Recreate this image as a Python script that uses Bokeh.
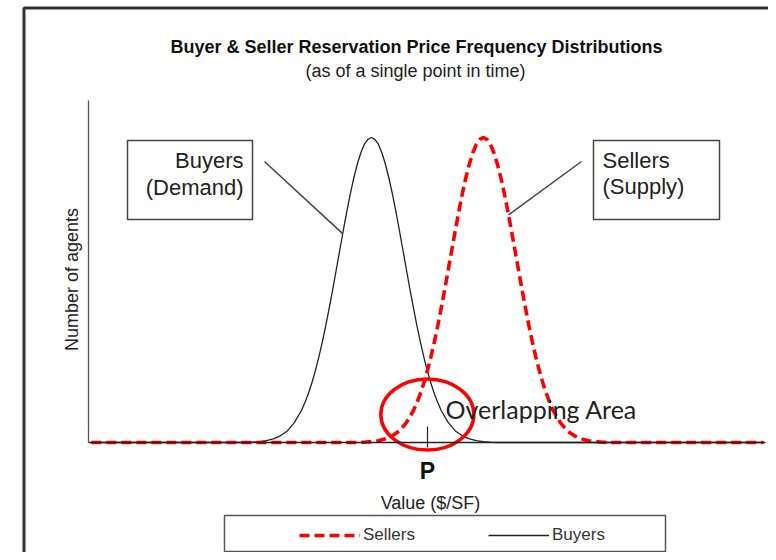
import numpy as np
from bokeh.plotting import figure
from bokeh.models import (Range1d, Label, Legend, LegendItem, BoxAnnotation, Arrow,
                          LinearAxis, FixedTicker)
from bokeh.embed import file_html
from bokeh.resources import INLINE

# ---------------- data ----------------
title_text = "Buyer & Seller Reservation Price Frequency Distributions"
subtitle_text = "(as of a single point in time)"
x_label = "Value ($/SF)"
y_label = "Number of agents"
buyers_label = "Buyers"
sellers_label = "Sellers"
buyers_box_lines = ["Buyers", "(Demand)"]
sellers_box_lines = ["Sellers", "(Supply)"]
overlap_label = "Overlapping Area"
price_label = "P"
price_p = 50

buyers_x = [2, 24, 25, 26, 27, 28, 29, 30, 31, 32, 32.5, 33, 33.5, 34, 34.5, 35, 35.5, 36,
            36.5, 37, 37.5, 38, 38.5, 39, 39.5, 40, 40.5, 41, 41.5, 42, 42.5, 43, 43.5, 44,
            44.5, 45, 45.5, 46, 46.5, 47, 47.5, 48, 48.5, 49, 49.5, 50, 50.5, 51, 51.5, 52,
            53, 54, 55, 56, 57, 58, 59, 60, 98]
buyers_y = [0, 0, 0.1, 0.3, 0.6, 1.2, 2.2, 3.8, 6.5, 10.4, 13.0, 16.0, 19.5, 23.5, 28.0, 33.0,
            38.4, 44.3, 50.4, 56.8, 63.2, 69.6, 75.8, 81.6, 86.8, 91.3, 95.0, 97.8, 99.4, 100,
            99.4, 97.8, 95.0, 91.3, 86.8, 81.6, 75.8, 69.6, 63.2, 56.8, 50.4, 44.3, 38.4, 33.0,
            28.0, 23.5, 19.5, 16.0, 13.0, 10.4, 6.5, 3.8, 2.2, 1.2, 0.6, 0.3, 0.1, 0, 0]

sellers_x = [2, 40, 41, 42, 43, 44, 45, 46, 47, 48, 48.5, 49, 49.5, 50, 50.5, 51, 51.5, 52,
             52.5, 53, 53.5, 54, 54.5, 55, 55.5, 56, 56.5, 57, 57.5, 58, 58.5, 59, 59.5, 60,
             60.5, 61, 61.5, 62, 62.5, 63, 63.5, 64, 64.5, 65, 65.5, 66, 66.5, 67, 67.5, 68,
             69, 70, 71, 72, 73, 74, 75, 76, 98]
sellers_y = [0, 0, 0.1, 0.3, 0.6, 1.2, 2.2, 3.8, 6.5, 10.4, 13.0, 16.0, 19.5, 23.5, 28.0, 33.0,
             38.4, 44.3, 50.4, 56.8, 63.2, 69.6, 75.8, 81.6, 86.8, 91.3, 95.0, 97.8, 99.4, 100,
             99.4, 97.8, 95.0, 91.3, 86.8, 81.6, 75.8, 69.6, 63.2, 56.8, 50.4, 44.3, 38.4, 33.0,
             28.0, 23.5, 19.5, 16.0, 13.0, 10.4, 6.5, 3.8, 2.2, 1.2, 0.6, 0.3, 0.1, 0, 0]

# ---------------- layout helpers (page pixels -> data) ----------------
W, H = 768, 552
AX_L, AX_R, AX_T, BASE, PEAK = 88, 765, 100, 442, 137
X_AT_AXL, X_AT_AXR = 1.6, 98.3


def dx(px):
    return X_AT_AXL + (px - AX_L) * (X_AT_AXR - X_AT_AXL) / (AX_R - AX_L)


def dy(py):
    return (BASE - py) * 100.0 / (BASE - PEAK)


FONT = "Liberation Sans"
RED = "#ff0000"
INK = "#222222"

p = figure(width=W, height=H, x_range=Range1d(dx(0), dx(W)), y_range=Range1d(dy(H), dy(0)),
           output_backend="svg", toolbar_location=None,
           x_axis_location=None, y_axis_location=None,
           min_border=0, min_border_left=0, min_border_right=0, min_border_top=0,
           min_border_bottom=0)
p.outline_line_color = None
p.grid.visible = False
p.background_fill_color = "white"
p.border_fill_color = "white"

# axes (drawn at fixed data locations)
yax = LinearAxis(fixed_location=dx(AX_L), bounds=(0, dy(AX_T)), ticker=FixedTicker(ticks=[]),
                 axis_line_color="#555555", axis_line_width=1.3,
                 major_tick_line_color=None, minor_tick_line_color=None,
                 major_label_text_font_size="0px")
p.add_layout(yax, "left")

xax = LinearAxis(fixed_location=0, bounds=(dx(AX_L), dx(AX_R)),
                 ticker=FixedTicker(ticks=[price_p]),
                 major_label_overrides={price_p: price_label},
                 major_label_text_font=FONT, major_label_text_font_size="23px",
                 major_label_text_font_style="bold", major_label_text_color="#111111",
                 major_label_standoff=10,
                 major_tick_in=16, major_tick_out=5, major_tick_line_color=INK,
                 major_tick_line_width=1.2, minor_tick_line_color=None,
                 axis_line_color=INK, axis_line_width=1.3)
p.add_layout(xax, "below")

# curves
r_buy = p.line(buyers_x, buyers_y, line_color=INK, line_width=1.3)
r_sell = p.line(sellers_x, sellers_y, line_color=RED, line_width=3.6, line_dash="10 5")

# overlap ellipse
p.ellipse(x=[price_p], y=[dy(414)], width=93, height=71, width_units="screen",
          height_units="screen", fill_color=None, line_color=RED, line_width=3.5)

# outer frame
p.add_layout(BoxAnnotation(left=dx(23.5), right=dx(900), top=dy(7.5), bottom=dy(800),
                           fill_alpha=0, line_alpha=1, line_color="#333333", line_width=3))

# label boxes
for lx, rx in ((127, 252), (593, 719)):
    p.add_layout(BoxAnnotation(left=dx(lx), right=dx(rx), top=dy(140), bottom=dy(219),
                               fill_alpha=0, line_alpha=1, line_color="#444444",
                               line_width=1.5))
p.add_layout(Arrow(end=None, x_start=dx(264), y_start=dy(161), x_end=37.9, y_end=68.5,
                   line_color="#444444", line_width=1.5))
p.add_layout(Arrow(end=None, x_start=dx(581), y_start=dy(161), x_end=61.6, y_end=74.6,
                   line_color="#444444", line_width=1.5))


def add_text(x, y, text, size, align="center", bold=False, font=FONT, color=INK, angle=0):
    p.add_layout(Label(x=x, y=y, text=text, text_align=align, text_baseline="middle",
                       text_font=font, text_font_size=size, text_color=color,
                       text_font_style="bold" if bold else "normal", angle=angle))


add_text(dx(243), dy(160), buyers_box_lines[0], "22px", align="right")
add_text(dx(243), dy(187), buyers_box_lines[1], "22px", align="right")
add_text(dx(602), dy(160), sellers_box_lines[0], "22px", align="left")
add_text(dx(602), dy(186), sellers_box_lines[1], "22px", align="left")

add_text(dx(416), dy(46), title_text, "18px", bold=True, color="#111111")
add_text(dx(415), dy(70), subtitle_text, "18px")
add_text(dx(71.5), dy(279), y_label, "18px", angle=np.pi / 2)
add_text(dx(430), dy(502), x_label, "18px")
add_text(dx(445), dy(408), overlap_label, "25px", align="left", font="Lato",
         color="#222222")

# legend
p.add_layout(BoxAnnotation(left=dx(224), right=dx(665), top=dy(515), bottom=dy(551),
                           fill_alpha=0, line_alpha=1, line_color="#555555", line_width=1.5))
legend = Legend(items=[LegendItem(label=sellers_label, renderers=[r_sell]),
                       LegendItem(label=buyers_label, renderers=[r_buy])],
                orientation="horizontal", location=(299, H - 545),
                glyph_width=61, glyph_height=20, label_standoff=3, spacing=73,
                padding=0, margin=0, border_line_color=None, background_fill_alpha=0,
                label_text_font=FONT, label_text_font_size="17px", label_text_color="#333333")
p.add_layout(legend)

open("out.html", "w").write(file_html(p, INLINE))
